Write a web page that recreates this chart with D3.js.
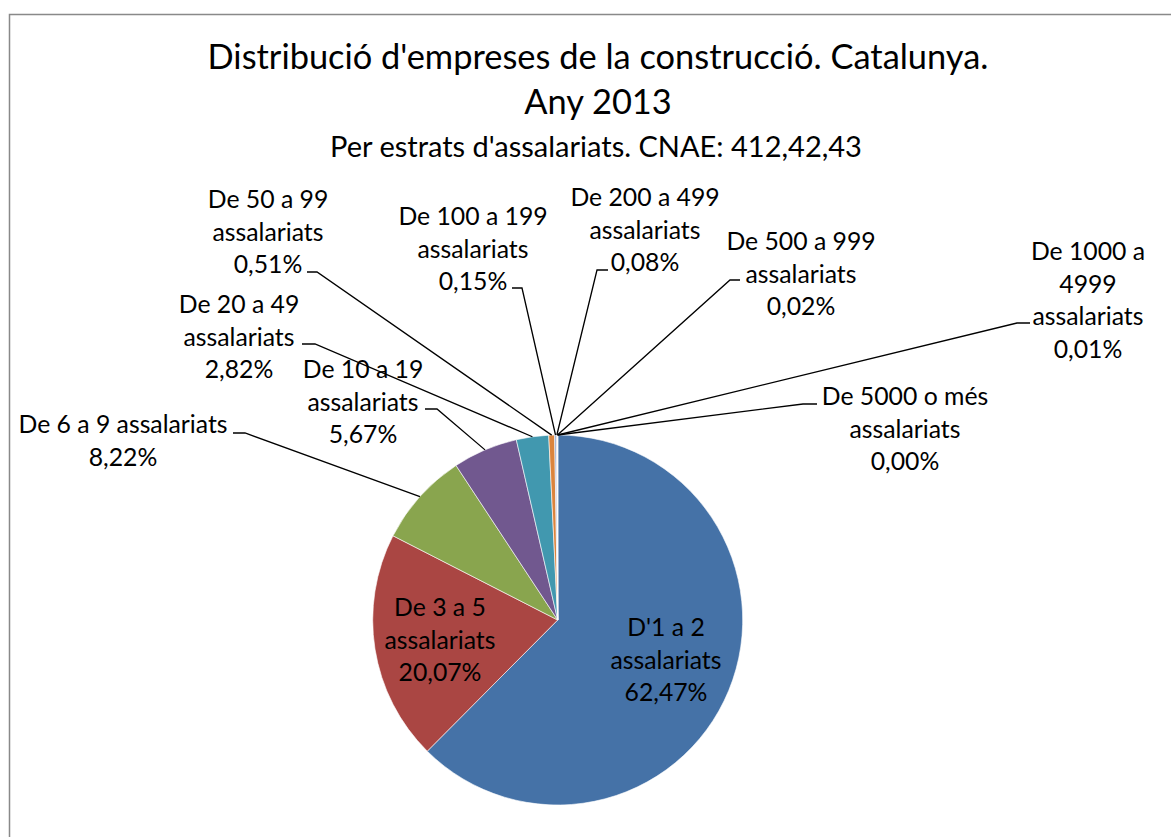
<!DOCTYPE html>
<html>
<head>
<meta charset="utf-8">
<script src="https://cdn.jsdelivr.net/npm/d3@7/dist/d3.min.js"></script>
<style>
  body { margin: 0; background: #fff; }
  text { font-family: Lato, "Open Sans", sans-serif; fill: #000; }
</style>
</head>
<body>
<svg id="chart"></svg>
<script>
// data
const categories = [
  "D'1 a 2 assalariats",
  "De 3 a 5 assalariats",
  "De 6 a 9 assalariats",
  "De 10 a 19 assalariats",
  "De 20 a 49 assalariats",
  "De 50 a 99 assalariats",
  "De 100 a 199 assalariats",
  "De 200 a 499 assalariats",
  "De 500 a 999 assalariats",
  "De 1000 a 4999 assalariats",
  "De 5000 o més assalariats"
];
const values = [62.47, 20.07, 8.22, 5.67, 2.82, 0.51, 0.15, 0.08, 0.02, 0.01, 0.003];
const titleLines = ["Distribució d'empreses de la construcció. Catalunya.", "Any 2013"];
const subtitle = "Per estrats d'assalariats. CNAE: 412,42,43";

const colors = ["#4572A7", "#AA4643", "#89A54E", "#71588F", "#4198AF", "#DB843D",
                "#93A9CF", "#D19392", "#B9CD96", "#A99BBD", "#91C3D5"];

const WIDTH = 1171, HEIGHT = 837;
const CX = 557.7, CY = 620, R = 185;
const LINE_H = 32.5;

// label placement (dragged by hand in the original): centre x, first baseline,
// word breaks, leader line elbow and end
const LABELS = [
  { x: 666, y: 636, brk: [3] },
  { x: 440, y: 616, brk: [4] },
  { x: 123, y: 433, brk: [], lead: [[245, 433], [233, 433]] },
  { x: 363, y: 378, brk: [4], lead: [[437, 409], [425, 409]] },
  { x: 239, y: 313, brk: [4], lead: [[315, 344], [302, 344]] },
  { x: 268, y: 208, brk: [4], lead: [[317, 272], [307, 272]] },
  { x: 473, y: 225, brk: [4], lead: [[522, 288], [512, 288]] },
  { x: 645, y: 206, brk: [4], lead: [[597, 270], [608, 270]] },
  { x: 801, y: 250, brk: [4], lead: [[730, 280], [740, 280]] },
  { x: 1088, y: 260, brk: [3, 4], lead: [[1017, 323], [1030, 323]] },
  { x: 905, y: 405, brk: [4], lead: [[803, 404], [817, 404]] }
];

const fmt = d3.formatLocale({ decimal: ",", thousands: ".", grouping: [3], currency: ["", "€"] }).format(".2f");

const svg = d3.select("#chart").attr("width", WIDTH).attr("height", HEIGHT);

// font size so a sample string gets the width seen in the picture
function fitSize(text, target) {
  const t = svg.append("text").attr("font-size", 100).text(text);
  const w = t.node().getComputedTextLength();
  t.remove();
  return 100 * target / w;
}
const LABEL_SIZE = fitSize("assalariats", 111);
const TITLE_SIZE = fitSize(titleLines[0], 781);
const SUB_SIZE = fitSize(subtitle, 532);

// chart border
svg.append("rect")
  .attr("x", 9.5).attr("y", 14.5)
  .attr("width", WIDTH + 20).attr("height", HEIGHT + 20)
  .attr("fill", "#fff")
  .attr("stroke", "#898989")
  .attr("stroke-width", 1.5);

// titles
svg.selectAll(".title")
  .data(titleLines)
  .enter()
  .append("text")
  .attr("class", "title")
  .attr("x", 598)
  .attr("y", (d, i) => 69 + i * 45)
  .attr("text-anchor", "middle")
  .attr("font-size", TITLE_SIZE)
  .text(d => d);

svg.append("text")
  .attr("x", 596)
  .attr("y", 156.5)
  .attr("text-anchor", "middle")
  .attr("font-size", SUB_SIZE)
  .text(subtitle);

// pie
const arcs = d3.pie().sort(null).value(d => d)(values);
const arc = d3.arc().innerRadius(0).outerRadius(R);
const edge = d3.arc().innerRadius(R).outerRadius(R);

const g = svg.append("g").attr("transform", `translate(${CX},${CY})`);

g.selectAll("path")
  .data(arcs)
  .enter()
  .append("path")
  .attr("d", arc)
  .attr("fill", (d, i) => colors[i])
  .attr("stroke", "#fff")
  .attr("stroke-width", 0.6);

// leader lines: from slice edge to elbow, then short horizontal
svg.selectAll(".leader")
  .data(arcs.filter((d, i) => LABELS[i].lead))
  .enter()
  .append("polyline")
  .attr("class", "leader")
  .attr("points", d => {
    const [px, py] = edge.centroid(d);
    const L = LABELS[d.index].lead;
    return [[CX + px, CY + py], L[0], L[1]].map(p => p.join(",")).join(" ");
  })
  .attr("fill", "none")
  .attr("stroke", "#000")
  .attr("stroke-width", 1.3);

// labels
function labelLines(i) {
  const words = categories[i].split(" ");
  const cuts = [0].concat(LABELS[i].brk, [words.length]);
  const out = [];
  for (let k = 0; k < cuts.length - 1; k++) out.push(words.slice(cuts[k], cuts[k + 1]).join(" "));
  out.push(fmt(values[i]) + "%");
  return out;
}

categories.forEach((c, i) => {
  const L = LABELS[i];
  svg.append("text")
    .attr("text-anchor", "middle")
    .attr("font-size", LABEL_SIZE)
    .selectAll("tspan")
    .data(labelLines(i))
    .enter()
    .append("tspan")
    .attr("x", L.x)
    .attr("y", (d, k) => L.y + k * LINE_H)
    .text(d => d);
});
</script>
</body>
</html>
